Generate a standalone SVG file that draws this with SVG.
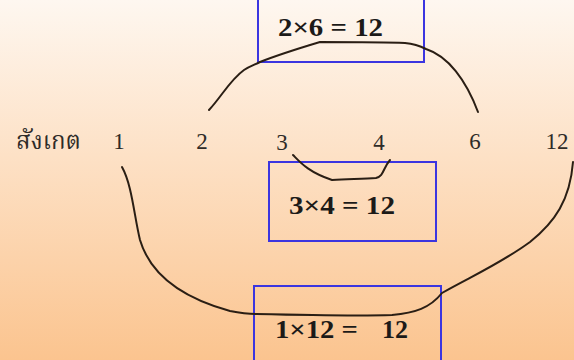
<svg xmlns="http://www.w3.org/2000/svg" width="574" height="360" viewBox="0 0 574 360">
<defs>
<linearGradient id="bg" x1="0" y1="0" x2="0" y2="1">
<stop offset="0" stop-color="#fef7f0"/>
<stop offset="0.45" stop-color="#fde0c4"/>
<stop offset="1" stop-color="#fbc48f"/>
</linearGradient>
<style>
.box{fill:none;stroke:#3b35e0;stroke-width:2}
.lbl{font-family:'Liberation Serif','Times New Roman',Times,serif;font-weight:bold;font-size:26px;fill:#1c1a18}
.num{font-family:'Liberation Serif','Times New Roman',Times,serif;font-size:23px;fill:#2e2b28}
.thai{font-family:'Liberation Serif','Noto Serif Thai','Noto Sans Thai',serif;font-size:24px;fill:#2e2b28}
.arc{fill:none;stroke:#2a1e14;stroke-width:2;stroke-linecap:round;stroke-linejoin:round}
</style>
</defs>
<rect width="574" height="360" fill="url(#bg)"/>
<g id="row">
<text class="thai" x="16" y="149">สังเกต</text>
<text class="num" x="119" y="149" text-anchor="middle">1</text>
<text class="num" x="202" y="149" text-anchor="middle">2</text>
<text class="num" x="282" y="150" text-anchor="middle">3</text>
<text class="num" x="379" y="150" text-anchor="middle">4</text>
<text class="num" x="475" y="149" text-anchor="middle">6</text>
<text class="num" x="557" y="149" text-anchor="middle">12</text>
</g>
<g id="box-2x6">
<rect class="box" x="258" y="-4" width="166" height="66"/>
<text class="lbl" x="278" y="36" textLength="105" lengthAdjust="spacingAndGlyphs">2×6 = 12</text>
</g>
<g id="box-3x4">
<rect class="box" x="269" y="162" width="167" height="79"/>
<text class="lbl" x="289" y="214" textLength="106" lengthAdjust="spacingAndGlyphs">3×4 = 12</text>
</g>
<g id="box-1x12">
<rect class="box" x="254" y="286" width="187" height="80"/>
<text class="lbl" x="275" y="338" textLength="83" lengthAdjust="spacingAndGlyphs">1×12 =</text>
<text class="lbl" x="382" y="338">12</text>
</g>
<g id="connectors">
<path class="arc" d="M209,110 C222,96 230,80 244,70 C250,66 254,65 260,62 C280,54 300,48 320,42 C350,42 385,42 405,43 C415,44 420,46 426,49 C448,56 466,80 478,112"/>
<path class="arc" d="M293,155 C300,162 308,172 332,180 C350,179 365,179 376,178 C384,176 383,168 390,160"/>
<path class="arc" d="M122,167 C132,185 134,215 140,240 C152,280 190,300 230,311 C245,314 250,314 256,314 C300,315 360,316 392,315 C415,313 430,308 442,293 C470,277 500,264 530,242 C555,222 570,200 573,162"/>
</g>
</svg>
